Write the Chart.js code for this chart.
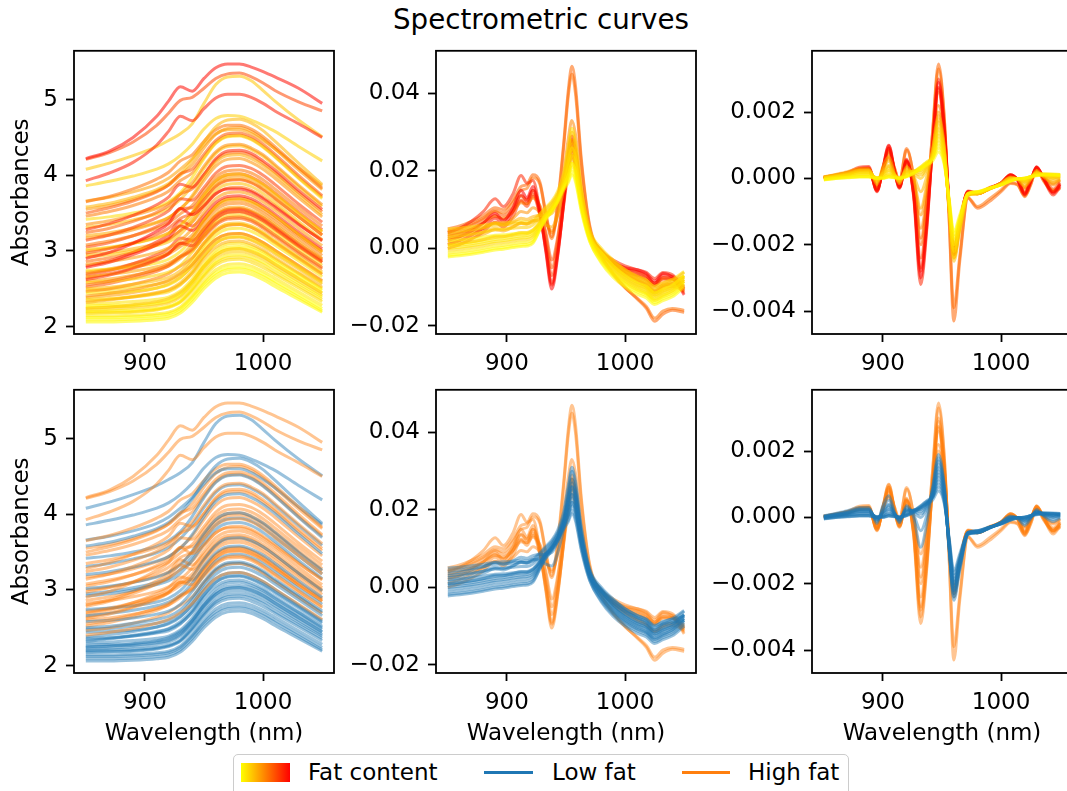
<!DOCTYPE html>
<html><head><meta charset="utf-8">
<script src="https://cdn.jsdelivr.net/npm/chart.js@4.4.1/dist/chart.umd.min.js"></script>
<style>
html,body{margin:0;padding:0;background:#fff;}
body{width:1067px;height:791px;overflow:hidden;position:relative;font-family:"DejaVu Sans",sans-serif;color:#000;}
canvas{position:absolute;}
#title{position:absolute;left:0;top:6px;width:1082px;text-align:center;font-size:27.7px;line-height:27.7px;white-space:nowrap;}
#legendBox{position:absolute;left:233px;top:754px;width:616px;height:52px;box-sizing:border-box;border:1.8px solid #cccccc;border-radius:5px;background:#fff;}
.lt{position:absolute;top:761px;font-size:23px;line-height:23px;white-space:nowrap;}
.lh{position:absolute;height:3.5px;}
</style>
</head><body>
<div id="title">Spectrometric curves</div>
<div id="legendBox"></div>
<div style="position:absolute;left:241px;top:763px;width:49px;height:19px;background:linear-gradient(to right,#ffff00,#ff8000,#ff0000);"></div>
<div class="lt" style="left:308px">Fat content</div>
<div class="lh" style="left:484px;top:770.5px;width:49px;background:#1f77b4"></div>
<div class="lt" style="left:552px">Low fat</div>
<div class="lh" style="left:682px;top:770.5px;width:48px;background:#ff7f0e"></div>
<div class="lt" style="left:748px">High fat</div>
<script>
// ---------- data ----------
const wavelengthsA = [850,870,890,910,920,930,940,950,960,970,980,990,1000,1010,1030,1050];
const fatA = [2,5,8,4,12,3,16,9,22,6,14,30,10,40,18,25,7,45,20,48,13,34,11,27,38,17,42,23,8,33,15,28,19,10,44,12,47,36,1,6,39,21,
              3,7,11,5,15,19,26,9,32,20,36,24,43,29,16,37,22,31,14,26,21];
const absorbances = [
 [2.06,2.06,2.07,2.09,2.11,2.18,2.32,2.50,2.64,2.71,2.72,2.69,2.62,2.53,2.36,2.19],
 [2.14,2.14,2.15,2.17,2.19,2.26,2.41,2.60,2.75,2.82,2.83,2.80,2.73,2.64,2.46,2.28],
 [2.17,2.18,2.19,2.22,2.25,2.32,2.47,2.66,2.81,2.88,2.89,2.85,2.78,2.69,2.51,2.33],
 [2.20,2.21,2.22,2.24,2.27,2.34,2.50,2.70,2.86,2.94,2.95,2.92,2.85,2.76,2.57,2.39],
 [2.24,2.26,2.29,2.33,2.37,2.45,2.60,2.80,2.95,3.02,3.03,2.99,2.92,2.82,2.63,2.44],
 [2.27,2.28,2.29,2.32,2.35,2.43,2.59,2.80,2.97,3.05,3.06,3.03,2.96,2.86,2.67,2.48],
 [2.32,2.35,2.39,2.44,2.48,2.56,2.70,2.90,3.05,3.12,3.13,3.09,3.01,2.91,2.71,2.52],
 [2.36,2.37,2.39,2.43,2.46,2.55,2.71,2.93,3.10,3.18,3.19,3.15,3.08,2.98,2.78,2.58],
 [2.40,2.44,2.49,2.56,2.61,2.70,2.82,3.00,3.15,3.22,3.23,3.19,3.11,3.01,2.81,2.61],
 [2.44,2.45,2.47,2.51,2.55,2.64,2.81,3.03,3.21,3.29,3.30,3.26,3.18,3.08,2.87,2.66],
 [2.50,2.52,2.56,2.61,2.65,2.74,2.90,3.11,3.28,3.36,3.37,3.33,3.25,3.14,2.93,2.72],
 [2.55,2.60,2.67,2.76,2.82,2.93,3.02,3.20,3.36,3.44,3.45,3.41,3.32,3.21,2.99,2.78],
 [2.58,2.60,2.63,2.68,2.72,2.81,2.98,3.20,3.38,3.46,3.47,3.43,3.35,3.24,3.02,2.81],
 [2.62,2.68,2.77,2.88,2.96,3.10,3.07,3.24,3.42,3.51,3.52,3.48,3.40,3.29,3.06,2.85],
 [2.66,2.69,2.73,2.79,2.84,2.93,3.09,3.31,3.49,3.57,3.58,3.54,3.46,3.35,3.12,2.90],
 [2.70,2.75,2.81,2.90,2.96,3.06,3.17,3.37,3.54,3.62,3.63,3.59,3.50,3.39,3.16,2.94],
 [2.74,2.76,2.79,2.84,2.89,2.99,3.17,3.40,3.59,3.68,3.69,3.65,3.57,3.46,3.22,2.99],
 [2.78,2.85,2.95,3.08,3.17,3.33,3.27,3.42,3.60,3.69,3.70,3.66,3.57,3.46,3.22,3.00],
 [2.82,2.86,2.91,2.98,3.04,3.14,3.29,3.51,3.69,3.77,3.78,3.74,3.65,3.54,3.30,3.07],
 [2.90,2.98,3.10,3.26,3.36,3.56,3.48,3.60,3.76,3.82,3.82,3.78,3.69,3.58,3.35,3.14],
 [2.92,2.95,3.00,3.07,3.12,3.22,3.39,3.61,3.80,3.88,3.89,3.85,3.76,3.64,3.39,3.15],
 [2.97,3.03,3.11,3.22,3.30,3.43,3.50,3.68,3.85,3.93,3.94,3.90,3.81,3.69,3.45,3.21],
 [3.02,3.05,3.10,3.17,3.23,3.33,3.51,3.74,3.93,4.01,4.02,3.97,3.88,3.76,3.50,3.26],
 [3.08,3.13,3.20,3.30,3.37,3.49,3.60,3.80,3.98,4.06,4.07,4.03,3.94,3.82,3.57,3.33],
 [3.14,3.21,3.31,3.44,3.53,3.69,3.67,3.84,4.03,4.12,4.13,4.09,4.00,3.88,3.62,3.38],
 [3.20,3.24,3.30,3.38,3.44,3.55,3.73,3.97,4.17,4.26,4.27,4.22,4.13,4.01,3.74,3.48],
 [3.28,3.36,3.47,3.61,3.71,3.88,3.84,4.01,4.22,4.32,4.33,4.29,4.19,4.07,3.80,3.55],
 [3.35,3.40,3.47,3.56,3.63,3.75,3.90,4.12,4.31,4.40,4.41,4.36,4.27,4.14,3.87,3.61],
 [3.42,3.45,3.50,3.58,3.65,3.77,3.97,4.22,4.42,4.51,4.52,4.47,4.37,4.24,3.96,3.69],
 [3.50,3.57,3.66,3.78,3.87,4.02,4.08,4.28,4.46,4.55,4.56,4.51,4.41,4.28,4.00,3.73],
 [3.58,3.63,3.71,3.81,3.89,4.02,4.20,4.44,4.64,4.73,4.74,4.69,4.59,4.45,4.16,3.88],
 [3.65,3.72,3.82,3.95,4.04,4.19,4.27,4.45,4.60,4.66,4.66,4.61,4.51,4.38,4.10,3.83],
 [3.66,3.71,3.78,3.88,3.96,4.08,4.22,4.40,4.55,4.60,4.60,4.55,4.46,4.35,4.10,3.86],
 [3.86,3.92,3.99,4.08,4.15,4.26,4.41,4.61,4.75,4.79,4.78,4.73,4.66,4.58,4.38,4.19],
 [3.93,4.03,4.17,4.40,4.58,4.78,4.72,4.88,5.02,5.07,5.07,5.03,4.95,4.85,4.68,4.50],
 [4.08,4.16,4.26,4.38,4.46,4.55,4.68,4.95,5.20,5.30,5.31,5.25,5.12,4.98,4.73,4.51],
 [4.22,4.32,4.50,4.78,4.98,5.17,5.11,5.28,5.42,5.47,5.47,5.43,5.37,5.30,5.15,4.95],
 [4.21,4.30,4.44,4.66,4.82,4.99,5.03,5.15,5.28,5.34,5.35,5.30,5.22,5.12,4.97,4.85],
 [2.12,2.12,2.13,2.15,2.17,2.24,2.39,2.57,2.71,2.78,2.79,2.76,2.69,2.60,2.42,2.24],
 [2.30,2.31,2.33,2.36,2.39,2.47,2.63,2.84,3.01,3.09,3.10,3.06,2.99,2.89,2.70,2.50],
 [2.68,2.74,2.83,2.95,3.03,3.17,3.14,3.30,3.47,3.55,3.56,3.52,3.44,3.33,3.10,2.89],
 [3.00,3.04,3.10,3.18,3.24,3.35,3.50,3.72,3.90,3.98,3.99,3.95,3.86,3.74,3.49,3.25],
 [2.09,2.09,2.10,2.12,2.14,2.21,2.36,2.54,2.68,2.75,2.76,2.73,2.66,2.57,2.39,2.21],
 [2.19,2.19,2.20,2.23,2.26,2.33,2.49,2.68,2.84,2.91,2.92,2.89,2.82,2.72,2.54,2.36],
 [2.22,2.23,2.25,2.28,2.31,2.39,2.55,2.75,2.91,2.98,2.99,2.96,2.89,2.79,2.60,2.41],
 [2.25,2.26,2.27,2.30,2.33,2.41,2.57,2.78,2.94,3.02,3.03,3.00,2.93,2.83,2.64,2.45],
 [2.34,2.36,2.40,2.45,2.49,2.58,2.73,2.94,3.10,3.17,3.18,3.14,3.06,2.96,2.76,2.56],
 [2.38,2.41,2.45,2.51,2.56,2.65,2.79,2.99,3.15,3.22,3.23,3.19,3.11,3.01,2.80,2.60],
 [2.46,2.50,2.56,2.64,2.70,2.80,2.91,3.10,3.26,3.34,3.35,3.31,3.22,3.11,2.90,2.69],
 [2.48,2.49,2.52,2.56,2.60,2.69,2.86,3.08,3.26,3.34,3.35,3.31,3.23,3.12,2.91,2.70],
 [2.52,2.57,2.64,2.73,2.80,2.92,3.00,3.18,3.34,3.42,3.43,3.39,3.30,3.19,2.97,2.76],
 [2.60,2.63,2.68,2.75,2.80,2.90,3.04,3.25,3.42,3.50,3.51,3.47,3.39,3.28,3.06,2.85],
 [2.64,2.70,2.78,2.89,2.97,3.10,3.12,3.29,3.46,3.54,3.55,3.51,3.42,3.31,3.08,2.87],
 [2.72,2.76,2.83,2.92,2.98,3.09,3.21,3.41,3.58,3.66,3.67,3.63,3.54,3.43,3.20,2.98],
 [2.80,2.87,2.98,3.12,3.22,3.40,3.33,3.47,3.64,3.72,3.73,3.69,3.60,3.49,3.25,3.03],
 [2.86,2.91,2.98,3.08,3.15,3.27,3.38,3.58,3.75,3.83,3.84,3.80,3.71,3.60,3.36,3.13],
 [2.95,2.98,3.03,3.10,3.16,3.27,3.44,3.67,3.86,3.94,3.95,3.91,3.82,3.70,3.45,3.21],
 [3.05,3.11,3.20,3.32,3.41,3.56,3.57,3.75,3.93,4.01,4.02,3.98,3.89,3.77,3.52,3.28],
 [3.17,3.21,3.28,3.37,3.44,3.56,3.71,3.93,4.12,4.21,4.22,4.17,4.08,3.96,3.70,3.45],
 [3.24,3.30,3.39,3.51,3.60,3.75,3.82,4.01,4.20,4.29,4.30,4.26,4.16,4.04,3.77,3.52],
 [3.31,3.35,3.41,3.49,3.56,3.68,3.86,4.09,4.29,4.38,4.39,4.34,4.25,4.12,3.85,3.59],
 [3.46,3.52,3.60,3.71,3.79,3.93,4.03,4.24,4.43,4.52,4.53,4.48,4.38,4.25,3.97,3.71],
 [3.55,3.60,3.68,3.79,3.87,4.00,4.14,4.36,4.54,4.62,4.63,4.58,4.48,4.35,4.07,3.81]
];

const wavelengthsD1 = [850,860,870,880,890,897,905,912,917,922,928,933,938,943,948,952,955,958,963,970,980,990,1000,1010,1018,1025,1032,1040,1050];
const fatD1 = [2,4,6,8,3,10,12,5,14,16,18,9,7,1,13,49,45,42,35,30,28,24,22,38,33];
const firstDerivative = [
 [-0.0022,-0.0019,-0.0015,-0.0010,-0.0004,-0.0002,0.0002,0.0005,0.0006,0.0013,0.0048,0.0075,0.0095,0.0120,0.0155,0.0175,0.0200,0.0180,0.0100,0.0020,-0.0038,-0.0075,-0.0100,-0.0118,-0.0128,-0.0145,-0.0135,-0.0125,-0.0100],
 [-0.0012,-0.0009,-0.0005,0.0000,0.0006,0.0008,0.0012,0.0015,0.0016,0.0023,0.0053,0.0080,0.0100,0.0125,0.0160,0.0190,0.0220,0.0200,0.0110,0.0025,-0.0030,-0.0065,-0.0090,-0.0108,-0.0118,-0.0135,-0.0125,-0.0115,-0.0090],
 [0.0000,0.0003,0.0007,0.0012,0.0018,0.0020,0.0024,0.0027,0.0028,0.0035,0.0060,0.0085,0.0105,0.0130,0.0165,0.0210,0.0240,0.0220,0.0120,0.0030,-0.0020,-0.0055,-0.0080,-0.0098,-0.0108,-0.0125,-0.0115,-0.0105,-0.0080],
 [0.0010,0.0013,0.0017,0.0022,0.0028,0.0030,0.0034,0.0037,0.0038,0.0045,0.0068,0.0090,0.0110,0.0135,0.0172,0.0225,0.0260,0.0235,0.0130,0.0035,-0.0015,-0.0050,-0.0075,-0.0093,-0.0103,-0.0120,-0.0110,-0.0100,-0.0075],
 [0.0020,0.0022,0.0025,0.0029,0.0034,0.0035,0.0038,0.0040,0.0040,0.0046,0.0066,0.0085,0.0102,0.0125,0.0158,0.0190,0.0220,0.0200,0.0115,0.0030,-0.0012,-0.0045,-0.0070,-0.0088,-0.0098,-0.0115,-0.0105,-0.0095,-0.0070],
 [0.0030,0.0033,0.0037,0.0042,0.0048,0.0049,0.0052,0.0054,0.0054,0.0060,0.0078,0.0095,0.0112,0.0138,0.0178,0.0240,0.0280,0.0250,0.0140,0.0040,-0.0010,-0.0045,-0.0070,-0.0088,-0.0098,-0.0115,-0.0105,-0.0095,-0.0070],
 [0.0042,0.0045,0.0049,0.0054,0.0060,0.0060,0.0063,0.0065,0.0064,0.0070,0.0086,0.0102,0.0118,0.0142,0.0185,0.0255,0.0300,0.0265,0.0150,0.0045,-0.0005,-0.0035,-0.0060,-0.0078,-0.0088,-0.0105,-0.0095,-0.0085,-0.0062],
 [0.0005,0.0008,0.0012,0.0017,0.0023,0.0025,0.0029,0.0032,0.0033,0.0040,0.0063,0.0087,0.0106,0.0128,0.0160,0.0185,0.0210,0.0192,0.0108,0.0025,-0.0027,-0.0062,-0.0087,-0.0105,-0.0115,-0.0132,-0.0122,-0.0110,-0.0085],
 [0.0025,0.0029,0.0035,0.0042,0.0052,0.0050,0.0056,0.0064,0.0062,0.0068,0.0078,0.0088,0.0100,0.0128,0.0172,0.0232,0.0270,0.0242,0.0135,0.0040,-0.0008,-0.0040,-0.0063,-0.0080,-0.0092,-0.0110,-0.0098,-0.0090,-0.0072],
 [0.0035,0.0039,0.0045,0.0053,0.0064,0.0060,0.0068,0.0078,0.0075,0.0082,0.0085,0.0085,0.0090,0.0118,0.0165,0.0220,0.0250,0.0225,0.0128,0.0040,-0.0005,-0.0033,-0.0055,-0.0072,-0.0083,-0.0100,-0.0088,-0.0082,-0.0075],
 [0.0015,0.0020,0.0027,0.0036,0.0048,0.0045,0.0055,0.0066,0.0063,0.0072,0.0070,0.0060,0.0055,0.0090,0.0150,0.0210,0.0240,0.0215,0.0120,0.0035,-0.0010,-0.0040,-0.0062,-0.0078,-0.0090,-0.0108,-0.0095,-0.0090,-0.0085],
 [-0.0005,-0.0002,0.0002,0.0007,0.0013,0.0015,0.0019,0.0022,0.0023,0.0030,0.0056,0.0082,0.0102,0.0127,0.0162,0.0200,0.0230,0.0208,0.0115,0.0028,-0.0025,-0.0060,-0.0085,-0.0102,-0.0113,-0.0130,-0.0120,-0.0110,-0.0085],
 [0.0050,0.0052,0.0056,0.0060,0.0065,0.0066,0.0068,0.0070,0.0069,0.0074,0.0090,0.0106,0.0122,0.0148,0.0195,0.0265,0.0310,0.0275,0.0155,0.0048,0.0000,-0.0030,-0.0055,-0.0072,-0.0082,-0.0098,-0.0090,-0.0080,-0.0060],
 [-0.0018,-0.0015,-0.0011,-0.0006,0.0000,0.0002,0.0006,0.0009,0.0010,0.0017,0.0050,0.0077,0.0097,0.0120,0.0150,0.0170,0.0190,0.0172,0.0095,0.0018,-0.0035,-0.0070,-0.0095,-0.0112,-0.0122,-0.0140,-0.0130,-0.0120,-0.0095],
 [0.0008,0.0012,0.0017,0.0023,0.0031,0.0031,0.0036,0.0041,0.0041,0.0048,0.0066,0.0084,0.0100,0.0127,0.0168,0.0225,0.0260,0.0233,0.0128,0.0035,-0.0018,-0.0052,-0.0077,-0.0095,-0.0105,-0.0122,-0.0112,-0.0102,-0.0080],
 [0.0020,0.0030,0.0045,0.0065,0.0090,0.0072,0.0105,0.0150,0.0130,0.0160,0.0090,-0.0010,-0.0105,-0.0020,0.0120,0.0240,0.0290,0.0250,0.0130,0.0040,-0.0010,-0.0035,-0.0050,-0.0055,-0.0065,-0.0085,-0.0065,-0.0075,-0.0120],
 [0.0010,0.0020,0.0034,0.0052,0.0078,0.0064,0.0095,0.0138,0.0122,0.0150,0.0085,0.0000,-0.0090,-0.0010,0.0110,0.0200,0.0240,0.0210,0.0115,0.0035,-0.0012,-0.0040,-0.0055,-0.0060,-0.0070,-0.0090,-0.0070,-0.0072,-0.0100],
 [0.0040,0.0052,0.0070,0.0095,0.0128,0.0108,0.0140,0.0188,0.0168,0.0175,0.0095,-0.0005,-0.0095,-0.0015,0.0115,0.0230,0.0280,0.0245,0.0130,0.0040,-0.0008,-0.0030,-0.0045,-0.0055,-0.0062,-0.0078,-0.0062,-0.0068,-0.0105],
 [0.0030,0.0038,0.0050,0.0066,0.0085,0.0075,0.0095,0.0125,0.0115,0.0140,0.0100,0.0040,-0.0030,0.0030,0.0140,0.0230,0.0270,0.0240,0.0130,0.0040,-0.0010,-0.0040,-0.0060,-0.0070,-0.0080,-0.0095,-0.0080,-0.0080,-0.0105],
 [0.0050,0.0058,0.0070,0.0085,0.0105,0.0100,0.0125,0.0160,0.0165,0.0190,0.0170,0.0090,0.0030,0.0120,0.0270,0.0410,0.0470,0.0420,0.0230,0.0060,-0.0020,-0.0065,-0.0100,-0.0130,-0.0155,-0.0188,-0.0170,-0.0160,-0.0165],
 [0.0045,0.0052,0.0063,0.0078,0.0098,0.0092,0.0118,0.0150,0.0155,0.0182,0.0165,0.0085,0.0025,0.0110,0.0260,0.0395,0.0450,0.0400,0.0220,0.0055,-0.0022,-0.0068,-0.0102,-0.0128,-0.0150,-0.0180,-0.0162,-0.0155,-0.0160],
 [0.0035,0.0042,0.0052,0.0066,0.0082,0.0078,0.0095,0.0118,0.0115,0.0130,0.0110,0.0070,0.0040,0.0090,0.0190,0.0285,0.0330,0.0295,0.0165,0.0048,-0.0010,-0.0045,-0.0068,-0.0085,-0.0098,-0.0115,-0.0102,-0.0098,-0.0110],
 [0.0025,0.0031,0.0040,0.0051,0.0066,0.0062,0.0077,0.0095,0.0092,0.0105,0.0092,0.0065,0.0045,0.0085,0.0165,0.0240,0.0280,0.0250,0.0140,0.0040,-0.0010,-0.0042,-0.0065,-0.0082,-0.0094,-0.0112,-0.0098,-0.0092,-0.0095],
 [0.0000,0.0010,0.0024,0.0042,0.0068,0.0055,0.0082,0.0122,0.0108,0.0135,0.0085,0.0010,-0.0070,0.0000,0.0120,0.0220,0.0260,0.0225,0.0120,0.0035,-0.0012,-0.0042,-0.0060,-0.0068,-0.0078,-0.0095,-0.0078,-0.0078,-0.0110],
 [0.0042,0.0049,0.0060,0.0075,0.0095,0.0085,0.0105,0.0135,0.0125,0.0150,0.0105,0.0030,-0.0050,0.0020,0.0135,0.0215,0.0255,0.0228,0.0125,0.0040,-0.0008,-0.0035,-0.0052,-0.0062,-0.0072,-0.0090,-0.0075,-0.0078,-0.0115]
];

const wavelengthsD2 = [850,860,870,880,888,895,900,905,910,914,920,926,932,937,942,947,952,956,960,965,972,980,990,1000,1008,1014,1020,1025,1030,1036,1044,1050];
const fatD2 = [2,4,6,8,10,12,15,18,3,9,13,6,49,45,42,30,28,36,24,39,21];
const secondDerivative = [
 [-0.00005,0.00000,0.00002,0.00004,0.00004,0.00000,0.00000,0.00004,0.00002,0.00000,0.00005,0.00015,0.00028,0.00040,0.00052,0.00080,0.00040,-0.00060,-0.00160,-0.00110,-0.00045,-0.00040,-0.00030,-0.00020,-0.00008,-0.00002,0.00000,0.00004,0.00008,0.00010,0.00010,0.00008],
 [-0.00003,0.00001,0.00004,0.00006,0.00006,0.00001,0.00001,0.00006,0.00003,0.00000,0.00006,0.00016,0.00030,0.00044,0.00058,0.00100,0.00050,-0.00068,-0.00180,-0.00122,-0.00046,-0.00041,-0.00030,-0.00019,-0.00007,-0.00001,0.00001,0.00005,0.00010,0.00012,0.00012,0.00010],
 [0.00000,0.00004,0.00008,0.00012,0.00012,0.00002,0.00004,0.00012,0.00006,0.00001,0.00010,0.00020,0.00032,0.00046,0.00062,0.00120,0.00060,-0.00075,-0.00200,-0.00135,-0.00048,-0.00042,-0.00030,-0.00018,-0.00005,0.00000,0.00000,0.00006,0.00012,0.00014,0.00013,0.00012],
 [0.00000,0.00005,0.00010,0.00016,0.00016,0.00000,0.00008,0.00020,0.00008,0.00000,0.00015,0.00022,0.00028,0.00042,0.00064,0.00140,0.00070,-0.00085,-0.00220,-0.00145,-0.00050,-0.00044,-0.00031,-0.00018,-0.00004,0.00000,-0.00004,0.00004,0.00014,0.00012,0.00008,0.00010],
 [0.00002,0.00007,0.00012,0.00020,0.00020,-0.00004,0.00014,0.00030,0.00010,-0.00004,0.00020,0.00020,0.00018,0.00036,0.00068,0.00160,0.00080,-0.00090,-0.00240,-0.00155,-0.00052,-0.00046,-0.00032,-0.00018,-0.00002,0.00000,-0.00008,0.00002,0.00016,0.00010,0.00004,0.00008],
 [0.00003,0.00009,0.00015,0.00024,0.00024,-0.00008,0.00020,0.00040,0.00010,-0.00008,0.00025,0.00015,0.00000,0.00025,0.00075,0.00150,0.00075,-0.00085,-0.00210,-0.00140,-0.00048,-0.00046,-0.00032,-0.00016,0.00000,0.00000,-0.00012,0.00000,0.00018,0.00008,0.00000,0.00005],
 [0.00004,0.00010,0.00017,0.00026,0.00026,-0.00012,0.00028,0.00052,0.00012,-0.00012,0.00030,0.00008,-0.00040,0.00005,0.00085,0.00170,0.00085,-0.00090,-0.00220,-0.00142,-0.00046,-0.00046,-0.00032,-0.00015,0.00002,-0.00002,-0.00018,-0.00002,0.00020,0.00006,-0.00006,0.00002],
 [0.00005,0.00012,0.00020,0.00030,0.00030,-0.00018,0.00036,0.00065,0.00014,-0.00016,0.00035,0.00000,-0.00090,-0.00020,0.00090,0.00190,0.00095,-0.00095,-0.00230,-0.00145,-0.00044,-0.00046,-0.00031,-0.00014,0.00004,-0.00003,-0.00024,-0.00004,0.00024,0.00004,-0.00012,-0.00002],
 [-0.00004,0.00000,0.00003,0.00005,0.00005,0.00001,0.00001,0.00005,0.00003,0.00001,0.00006,0.00018,0.00034,0.00048,0.00060,0.00090,0.00045,-0.00065,-0.00170,-0.00118,-0.00046,-0.00040,-0.00029,-0.00019,-0.00008,-0.00002,0.00001,0.00005,0.00009,0.00011,0.00011,0.00009],
 [0.00001,0.00006,0.00011,0.00018,0.00018,-0.00002,0.00010,0.00024,0.00008,-0.00002,0.00018,0.00022,0.00024,0.00040,0.00066,0.00130,0.00065,-0.00080,-0.00200,-0.00138,-0.00050,-0.00045,-0.00031,-0.00018,-0.00004,0.00000,-0.00005,0.00003,0.00014,0.00012,0.00006,0.00008],
 [0.00002,0.00008,0.00014,0.00022,0.00022,-0.00006,0.00016,0.00036,0.00010,-0.00006,0.00022,0.00018,0.00010,0.00032,0.00080,0.00180,0.00090,-0.00095,-0.00250,-0.00160,-0.00050,-0.00046,-0.00032,-0.00016,0.00000,-0.00001,-0.00010,0.00002,0.00016,0.00010,0.00002,0.00006],
 [-0.00002,0.00002,0.00006,0.00010,0.00010,0.00002,0.00003,0.00010,0.00005,0.00001,0.00008,0.00020,0.00035,0.00050,0.00064,0.00110,0.00055,-0.00070,-0.00190,-0.00128,-0.00047,-0.00041,-0.00030,-0.00018,-0.00006,0.00000,0.00000,0.00006,0.00011,0.00013,0.00012,0.00011],
 [0.00000,0.00008,0.00015,0.00030,0.00032,-0.00038,0.00030,0.00100,0.00020,-0.00028,0.00055,-0.00050,-0.00300,-0.00150,0.00100,0.00290,0.00150,-0.00080,-0.00215,-0.00130,-0.00040,-0.00045,-0.00030,-0.00015,0.00010,-0.00005,-0.00048,-0.00010,0.00035,0.00000,-0.00045,-0.00020],
 [0.00000,0.00008,0.00014,0.00028,0.00030,-0.00035,0.00028,0.00092,0.00018,-0.00026,0.00052,-0.00045,-0.00280,-0.00140,0.00095,0.00275,0.00140,-0.00082,-0.00220,-0.00135,-0.00040,-0.00045,-0.00030,-0.00014,0.00010,-0.00004,-0.00045,-0.00008,0.00034,0.00000,-0.00040,-0.00016],
 [0.00002,0.00010,0.00018,0.00034,0.00036,-0.00040,0.00032,0.00098,0.00020,-0.00030,0.00058,-0.00055,-0.00320,-0.00160,0.00100,0.00300,0.00155,-0.00080,-0.00225,-0.00135,-0.00038,-0.00044,-0.00028,-0.00014,0.00012,-0.00006,-0.00050,-0.00012,0.00034,-0.00002,-0.00050,-0.00025],
 [0.00002,0.00008,0.00014,0.00026,0.00028,-0.00030,0.00026,0.00080,0.00030,-0.00010,0.00090,0.00000,-0.00200,-0.00080,0.00140,0.00345,0.00180,-0.00120,-0.00430,-0.00250,-0.00060,-0.00090,-0.00070,-0.00040,-0.00015,-0.00020,-0.00055,-0.00020,0.00028,-0.00008,-0.00040,-0.00030],
 [0.00001,0.00007,0.00013,0.00024,0.00026,-0.00028,0.00024,0.00075,0.00028,-0.00008,0.00085,0.00005,-0.00180,-0.00070,0.00135,0.00330,0.00175,-0.00115,-0.00390,-0.00235,-0.00058,-0.00085,-0.00062,-0.00035,-0.00012,-0.00018,-0.00052,-0.00018,0.00026,-0.00006,-0.00036,-0.00026],
 [0.00001,0.00007,0.00013,0.00025,0.00027,-0.00032,0.00026,0.00085,0.00018,-0.00022,0.00050,-0.00035,-0.00240,-0.00115,0.00100,0.00260,0.00130,-0.00085,-0.00230,-0.00140,-0.00042,-0.00046,-0.00031,-0.00015,0.00008,-0.00004,-0.00040,-0.00006,0.00030,0.00002,-0.00032,-0.00012],
 [0.00004,0.00010,0.00017,0.00027,0.00028,-0.00020,0.00022,0.00065,0.00014,-0.00018,0.00040,-0.00010,-0.00150,-0.00060,0.00100,0.00220,0.00110,-0.00090,-0.00240,-0.00148,-0.00045,-0.00046,-0.00031,-0.00015,0.00005,-0.00003,-0.00030,-0.00004,0.00026,0.00004,-0.00020,-0.00006],
 [0.00000,0.00007,0.00014,0.00028,0.00030,-0.00036,0.00028,0.00090,0.00018,-0.00026,0.00050,-0.00045,-0.00270,-0.00130,0.00095,0.00270,0.00140,-0.00082,-0.00215,-0.00132,-0.00040,-0.00045,-0.00030,-0.00014,0.00009,-0.00004,-0.00044,-0.00008,0.00032,0.00000,-0.00040,-0.00018],
 [0.00004,0.00010,0.00018,0.00028,0.00029,-0.00022,0.00032,0.00060,0.00013,-0.00016,0.00036,-0.00004,-0.00110,-0.00035,0.00090,0.00200,0.00100,-0.00092,-0.00230,-0.00145,-0.00045,-0.00046,-0.00031,-0.00014,0.00005,-0.00003,-0.00028,-0.00005,0.00024,0.00004,-0.00016,-0.00004]
];

const xTicks = [900, 1000];
const yTicksA = [2, 3, 4, 5];
const yTicksD1 = [-0.02, 0, 0.02, 0.04];
const yTicksD2 = [-0.004, -0.002, 0, 0.002];
const fatThreshold = 20;

// ---------- drawing ----------
const allFat = fatA.concat(fatD1, fatD2);
const fatMin = Math.min(...allFat), fatMax = Math.max(...allFat);
const FONT = {family: "'DejaVu Sans', sans-serif", size: 23};
function autumnR(f) {
  const t = (f - fatMin) / (fatMax - fatMin);
  return 'rgba(255,' + Math.round(255 * (1 - t)) + ',0,0.55)';
}
function lowHigh(f) {
  return f < fatThreshold ? 'rgba(31,119,180,0.45)' : 'rgba(255,127,14,0.45)';
}
const fmt = d => v => {
  const s = d === 0 ? String(Math.round(v)) : Number(v).toFixed(d);
  return s.replace('-', '\u2212');
};
const frame = {
  id: 'frame',
  afterDatasetsDraw(chart) {
    const {ctx, chartArea: a} = chart;
    ctx.save();
    ctx.strokeStyle = '#000';
    ctx.lineWidth = 1.8;
    ctx.strokeRect(a.left, a.top, a.right - a.left, a.bottom - a.top);
    ctx.restore();
  }
};

function panel(cfg) {
  const padL = cfg.padL, padR = 12, padT = 20;
  const padB = cfg.xTitle ? 75 : 52;
  const W = padL + 260 + padR, H = padT + 285 + padB;
  const c = document.createElement('canvas');
  c.width = W; c.height = H;
  c.style.width = W + 'px'; c.style.height = H + 'px';
  c.style.left = (cfg.left - padL) + 'px';
  c.style.top = (cfg.top - padT) + 'px';
  document.body.appendChild(c);
  const datasets = cfg.curves.map((vals, i) => ({
    data: vals.map((v, j) => ({x: cfg.xs[j], y: v})),
    borderColor: cfg.color(cfg.fat[i]),
    borderWidth: 3,
    pointRadius: 0,
    fill: false,
    cubicInterpolationMode: 'monotone'
  }));
  new Chart(c, {
    type: 'line',
    data: {datasets},
    options: {
      responsive: false, animation: false, devicePixelRatio: 1, events: [],
      layout: {padding: {left: 0, right: padR, top: padT, bottom: 0}},
      plugins: {legend: {display: false}, tooltip: {enabled: false}},
      scales: {
        x: {
          type: 'linear', min: 840, max: 1060,
          afterBuildTicks: s => { s.ticks = xTicks.map(v => ({value: v})); },
          afterFit: s => { s.height = padB; },
          ticks: {font: FONT, color: '#000', padding: 8, maxRotation: 0, autoSkip: false, callback: v => String(v)},
          grid: {drawOnChartArea: false, drawTicks: true, tickLength: 8, tickWidth: 1.8, tickColor: '#000'},
          border: {display: false},
          title: {display: !!cfg.xTitle, text: 'Wavelength (nm)', font: FONT, color: '#000', padding: {top: 0, bottom: 0}}
        },
        y: {
          type: 'linear', min: cfg.yMin, max: cfg.yMax,
          afterBuildTicks: s => { s.ticks = cfg.yTicks.map(v => ({value: v})); },
          afterFit: s => { s.width = padL; },
          ticks: {font: FONT, color: '#000', padding: 8, autoSkip: false, callback: fmt(cfg.dec)},
          grid: {drawOnChartArea: false, drawTicks: true, tickLength: 8, tickWidth: 1.8, tickColor: '#000'},
          border: {display: false},
          title: {display: !!cfg.yTitle, text: 'Absorbances', font: FONT, color: '#000', padding: {top: 8, bottom: 0}}
        }
      }
    },
    plugins: [frame]
  });
}

const cols = [74, 436, 812];
const padLs = [74, 110, 110];
const rows = [49, 388];
const specs = [
  {xs: wavelengthsA, curves: absorbances, fat: fatA, yMin: 1.902, yMax: 5.645, yTicks: yTicksA, dec: 0, yTitle: true},
  {xs: wavelengthsD1, curves: firstDerivative, fat: fatD1, yMin: -0.0221, yMax: 0.0510, yTicks: yTicksD1, dec: 2},
  {xs: wavelengthsD2, curves: secondDerivative, fat: fatD2, yMin: -0.00469, yMax: 0.003847, yTicks: yTicksD2, dec: 3}
];
specs.forEach((s, k) => {
  panel(Object.assign({}, s, {left: cols[k], padL: padLs[k], top: rows[0], color: autumnR, xTitle: false}));
  panel(Object.assign({}, s, {left: cols[k], padL: padLs[k], top: rows[1], color: lowHigh, xTitle: true}));
});
</script>
</body></html>
